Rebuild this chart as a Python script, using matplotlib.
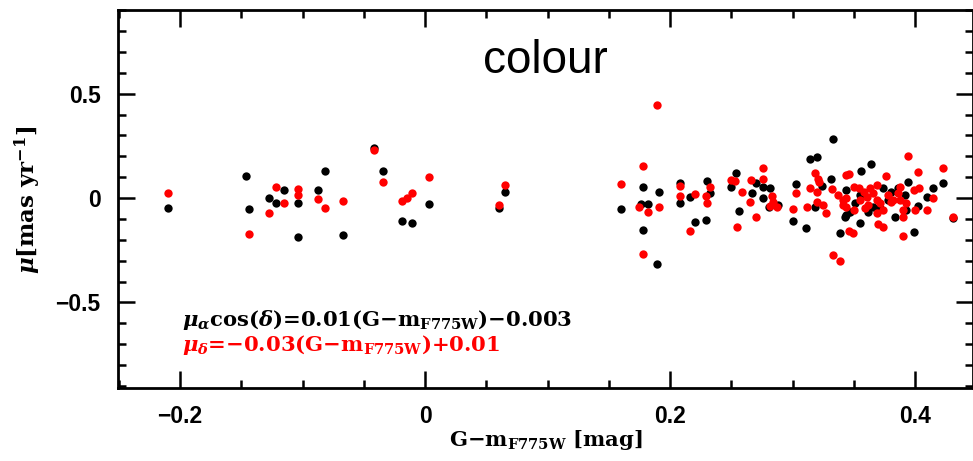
import matplotlib
matplotlib.use("Agg")
import matplotlib.pyplot as plt
from matplotlib.ticker import MultipleLocator, FuncFormatter

# proper motion in RA (black) vs colour
col_alpha = [-0.210, -0.146, -0.144, -0.127, -0.122, -0.115, -0.104, -0.104, -0.087, -0.082,
             -0.067, -0.042, -0.034, -0.019, -0.011, 0.003, 0.065, 0.060,
             0.178, 0.191, 0.160, 0.176, 0.182, 0.178, 0.189, 0.208, 0.208, 0.216,
             0.220, 0.229, 0.230, 0.233, 0.250, 0.254, 0.270, 0.276, 0.282, 0.267,
             0.276, 0.281, 0.288, 0.256, 0.303, 0.300, 0.311, 0.333, 0.314, 0.320,
             0.331, 0.324, 0.318, 0.344, 0.339, 0.344, 0.355, 0.364, 0.356, 0.423,
             0.415, 0.410, 0.394, 0.431, 0.399, 0.384, 0.402, 0.355, 0.347, 0.343,
             0.362, 0.366, 0.371, 0.380, 0.374, 0.386, 0.392, 0.393, 0.351, 0.378]
mu_alpha = [-0.050, 0.106, -0.051, 0.000, -0.026, 0.038, -0.026, -0.189, 0.038, 0.131,
            -0.178, 0.240, 0.131, -0.111, -0.122, -0.029, 0.030, -0.047,
            0.053, 0.030, -0.054, -0.029, -0.029, -0.154, -0.317, 0.071, -0.022, 0.006,
            -0.114, -0.106, 0.082, 0.023, 0.054, 0.119, 0.074, 0.054, 0.046, 0.023,
            -0.002, -0.042, -0.034, -0.061, 0.066, -0.109, -0.146, 0.284, 0.188, 0.196,
            0.090, 0.058, -0.045, 0.038, -0.167, -0.082, -0.119, 0.162, 0.130, 0.071,
            0.046, 0.003, 0.078, -0.095, -0.162, -0.090, -0.038, 0.014, -0.066, -0.090,
            -0.066, -0.042, -0.050, 0.030, 0.046, 0.046, 0.014, -0.058, -0.026, -0.010]

# proper motion in Dec (red) vs colour
col_delta = [-0.210, -0.144, -0.127, -0.122, -0.115, -0.104, -0.104, -0.087, -0.082, -0.067,
             -0.042, -0.034, -0.019, -0.015, -0.011, 0.003, 0.065, 0.060,
             0.189, 0.178, 0.160, 0.175, 0.182, 0.191, 0.178, 0.208, 0.208, 0.220,
             0.216, 0.233, 0.229, 0.230, 0.255, 0.276, 0.250, 0.253, 0.266, 0.276,
             0.259, 0.265, 0.283, 0.284, 0.282, 0.287, 0.270, 0.303, 0.300, 0.318,
             0.321, 0.322, 0.314, 0.320, 0.320, 0.325, 0.312, 0.327, 0.332, 0.344,
             0.337, 0.341, 0.333, 0.339, 0.346, 0.349, 0.370, 0.374, 0.390, 0.344,
             0.394, 0.346, 0.376, 0.402, 0.423, 0.415, 0.399, 0.403, 0.388, 0.410,
             0.431, 0.390, 0.400, 0.350, 0.354, 0.358, 0.344, 0.355, 0.361, 0.363,
             0.366, 0.369, 0.369, 0.362, 0.371, 0.374, 0.380, 0.382, 0.386, 0.388,
             0.393, 0.359, 0.350, 0.341, 0.369, 0.390, 0.378]
mu_delta = [0.023, -0.172, -0.071, 0.051, -0.026, 0.043, 0.014, -0.006, -0.050, -0.013,
            0.231, 0.075, -0.013, -0.002, 0.024, 0.100, 0.063, -0.034,
            0.447, 0.151, 0.069, -0.042, -0.066, -0.045, -0.269, 0.058, 0.010, 0.018,
            -0.157, 0.051, 0.010, -0.022, -0.138, 0.143, 0.087, 0.083, 0.087, 0.093,
            0.030, -0.018, 0.010, -0.018, -0.038, -0.045, -0.090, 0.026, -0.054, 0.122,
            0.090, 0.078, 0.046, 0.030, -0.018, -0.034, -0.045, -0.071, 0.042, 0.111,
            0.014, -0.010, -0.274, -0.303, -0.159, -0.167, -0.125, -0.138, -0.183, -0.042,
            0.202, 0.115, 0.107, 0.127, 0.143, 0.002, 0.038, 0.046, 0.054, -0.058,
            -0.090, -0.090, -0.058, 0.054, 0.046, 0.030, -0.002, -0.010, 0.006, 0.046,
            0.022, 0.063, -0.010, -0.034, -0.026, -0.058, -0.018, -0.010, 0.022, -0.010,
            -0.026, -0.050, -0.058, -0.034, -0.074, -0.058, 0.014]

plt.rcParams['mathtext.fontset'] = 'custom'
plt.rcParams['mathtext.rm'] = 'DejaVu Serif:bold'
plt.rcParams['mathtext.it'] = 'DejaVu Serif:italic:bold'
plt.rcParams['mathtext.bf'] = 'DejaVu Serif:bold'

fig = plt.figure(figsize=(9.73, 4.61), dpi=100)
ax = fig.add_axes([118 / 973, 1 - 388 / 461, 1 - 118 / 973, (388 - 9.5) / 461])

ax.plot(col_alpha, mu_alpha, 'o', color='black', ms=6, mec='none')
ax.plot(col_delta, mu_delta, 'o', color='#ff0000', ms=6, mec='none')

ax.set_xlim(-0.2506, 0.4473)
ax.set_ylim(-0.91, 0.903)

ax.xaxis.set_major_locator(MultipleLocator(0.2))
ax.xaxis.set_minor_locator(MultipleLocator(0.05))
ax.yaxis.set_major_locator(MultipleLocator(0.5))
ax.yaxis.set_minor_locator(MultipleLocator(0.1))

def fmt(v, pos):
    if abs(v) < 1e-9:
        return '0'
    return ('%g' % v).replace('-', '\u2212')

ax.xaxis.set_major_formatter(FuncFormatter(fmt))
ax.yaxis.set_major_formatter(FuncFormatter(fmt))

ax.tick_params(which='both', direction='in', top=True, right=True, width=1.8)
ax.tick_params(which='major', length=12, pad=12.5)
ax.tick_params(which='minor', length=6)
for lab in ax.get_xticklabels() + ax.get_yticklabels():
    lab.set_fontfamily('Liberation Sans')
    lab.set_fontweight('bold')
    lab.set_fontsize(16.5)
for sp in ax.spines.values():
    sp.set_linewidth(2)

fig.text(545 / 973, 1 - 73 / 461, 'colour', family='Liberation Sans', fontsize=33,
         ha='center', va='baseline')

# fit lines
fig.text(182 / 973, 1 - 326 / 461,
         r'$\mu_\alpha$cos($\delta$)=0.01(G$-$m$_{\rm F775W}$)$-$0.003',
         family='DejaVu Serif', fontweight='bold', fontsize=15.2, color='black',
         va='baseline')
fig.text(182 / 973, 1 - 351 / 461,
         r'$\mu_\delta$=$-$0.03(G$-$m$_{\rm F775W}$)+0.01',
         family='DejaVu Serif', fontweight='bold', fontsize=15.2, color='#ff0000',
         va='baseline')

fig.text(546 / 973, 1 - 440 / 461, r'G$-$m$_{\rm F775W}$ [mag]', family='DejaVu Serif',
         fontweight='bold', fontsize=15.2, ha='center', va='center')
fig.text(28 / 973, 1 - 200 / 461, r'$\mu$[mas yr$^{-1}$]', family='DejaVu Serif',
         fontweight='bold', fontsize=16.5, ha='center', va='center', rotation=90)

fig.savefig('out.png', dpi=100)
